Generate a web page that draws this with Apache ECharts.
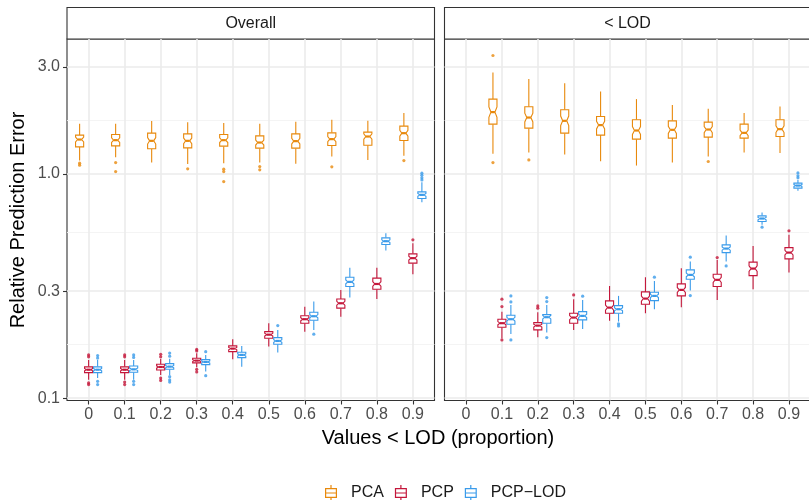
<!DOCTYPE html>
<html>
<head>
<meta charset="utf-8">
<script src="https://cdn.jsdelivr.net/npm/echarts@6/dist/echarts.min.js"></script>
<style>
  html, body { margin: 0; padding: 0; background: #fff; }
  #chart { width: 809px; height: 500px; }
</style>
</head>
<body>
<div id="chart"></div>
<script>
const categories = ['0', '0.1', '0.2', '0.3', '0.4', '0.5', '0.6', '0.7', '0.8', '0.9'];
const methods = ['PCA', 'PCP', 'PCP−LOD'];
const colors = ['#E8890C', '#C4163A', '#3A9BEA'];
const yTicks = [0.1, 0.3, 1.0, 3.0];
const yRange = [0.0977, 3.99];

// box rows: [lower whisker, Q1, median, Q3, upper whisker]
const overallPCA = [
  [1.146, 1.319, 1.422, 1.488, 1.671],
  [1.187, 1.333, 1.413, 1.497, 1.670],
  [1.123, 1.293, 1.403, 1.518, 1.718],
  [1.105, 1.306, 1.403, 1.507, 1.700],
  [1.116, 1.329, 1.413, 1.497, 1.683],
  [1.123, 1.302, 1.379, 1.477, 1.670],
  [1.108, 1.302, 1.399, 1.507, 1.705],
  [1.194, 1.337, 1.428, 1.523, 1.741],
  [1.154, 1.342, 1.467, 1.534, 1.723],
  [1.203, 1.407, 1.518, 1.632, 1.865]
];
const overallPCAOut = [[1.116, 1.093], [1.123, 1.024], [], [1.053], [1.049, 1.024, 0.924], [1.078, 1.042], [], [1.075], [], [1.146]];

const overallPCP = [
  [0.121, 0.130, 0.134, 0.138, 0.148],
  [0.121, 0.130, 0.134, 0.138, 0.148],
  [0.127, 0.1337, 0.1378, 0.1418, 0.1497],
  [0.1375, 0.1437, 0.1471, 0.1508, 0.1587],
  [0.1492, 0.1613, 0.1664, 0.1711, 0.1833],
  [0.170, 0.185, 0.192, 0.198, 0.216],
  [0.198, 0.216, 0.225, 0.233, 0.256],
  [0.231, 0.252, 0.265, 0.277, 0.304],
  [0.277, 0.306, 0.323, 0.343, 0.382],
  [0.357, 0.400, 0.421, 0.440, 0.491]
];
const overallPCPOut = [[0.156, 0.153, 0.117, 0.115], [0.156, 0.153, 0.118, 0.115], [0.157, 0.153, 0.123, 0.120], [0.165, 0.1625, 0.1346, 0.131], [], [], [], [], [], [0.508]];

const overallPCPLOD = [
  [0.123, 0.130, 0.134, 0.138, 0.148],
  [0.121, 0.1306, 0.1345, 0.1393, 0.148],
  [0.127, 0.1346, 0.1383, 0.1427, 0.150],
  [0.1314, 0.1412, 0.1451, 0.1486, 0.156],
  [0.1383, 0.1517, 0.156, 0.1603, 0.1711],
  [0.160, 0.174, 0.180, 0.1863, 0.2016],
  [0.2016, 0.2227, 0.232, 0.2416, 0.2696],
  [0.281, 0.3145, 0.330, 0.346, 0.382],
  [0.455, 0.484, 0.501, 0.5185, 0.544],
  [0.748, 0.776, 0.806, 0.831, 0.918]
];
const overallPCPLODOut = [[0.155, 0.151, 0.119, 0.115], [0.156, 0.152, 0.119, 0.115], [0.159, 0.154, 0.1247, 0.1207, 0.118], [0.1613, 0.1261], [], [0.2107], [0.1929], [], [], [1.007, 0.985, 0.960, 0.940]];

const lodPCA = [
  null,
  [1.228, 1.665, 1.884, 2.153, 2.829],
  [1.245, 1.598, 1.782, 1.990, 2.644],
  [1.219, 1.518, 1.723, 1.929, 2.537],
  [1.139, 1.488, 1.649, 1.800, 2.328],
  [1.089, 1.428, 1.560, 1.741, 2.153],
  [1.123, 1.443, 1.571, 1.723, 2.025],
  [1.194, 1.458, 1.576, 1.700, 1.949],
  [1.245, 1.443, 1.523, 1.665, 1.865],
  [1.237, 1.467, 1.582, 1.741, 1.995]
];
const lodPCAOut = [[], [3.369, 1.123], [1.154], [], [], [], [], [1.135], [], []];

const lodPCP = [
  null,
  [0.1851, 0.2073, 0.216, 0.225, 0.2432],
  [0.187, 0.2016, 0.2107, 0.2173, 0.2416],
  [0.2016, 0.216, 0.2288, 0.2393, 0.2763],
  [0.2212, 0.2393, 0.2534, 0.2715, 0.3167],
  [0.2393, 0.2625, 0.278, 0.2978, 0.3463],
  [0.2544, 0.2858, 0.304, 0.3233, 0.3799],
  [0.2743, 0.3145, 0.337, 0.357, 0.4135],
  [0.306, 0.352, 0.3783, 0.404, 0.4775],
  [0.3631, 0.4178, 0.4457, 0.4692, 0.5346]
];
const lodPCPOut = [[], [0.2763, 0.2561, 0.182], [0.2579, 0.252], [0.2888], [], [], [], [0.4234], [], [0.557]];

const lodPCPLOD = [
  null,
  [0.1935, 0.2137, 0.225, 0.2344, 0.2606],
  [0.1961, 0.216, 0.2297, 0.2359, 0.2606],
  [0.2037, 0.2234, 0.2328, 0.2432, 0.2743],
  [0.2196, 0.2393, 0.2493, 0.2587, 0.2858],
  [0.2493, 0.2724, 0.2858, 0.2969, 0.3334],
  [0.3018, 0.3393, 0.3546, 0.3733, 0.4064],
  [0.4064, 0.4457, 0.4645, 0.4824, 0.5307],
  [0.5924, 0.613, 0.6322, 0.6499, 0.672],
  [0.8399, 0.8633, 0.8867, 0.909, 0.940]
];
const lodPCPLODOut = [[], [0.2858, 0.2688, 0.182], [0.2808, 0.2696, 0.1863], [0.2849], [0.2145, 0.2101], [0.3463], [0.4252, 0.2867], [0.3889], [0.5786], [1.01, 0.98, 0.96]];

const sampleSize = 60; // for notch size
const panels = [
  { title: 'Overall', boxes: [overallPCA, overallPCP, overallPCPLOD], outs: [overallPCAOut, overallPCPOut, overallPCPLODOut] },
  { title: '< LOD', boxes: [lodPCA, lodPCP, lodPCPLOD], outs: [lodPCAOut, lodPCPOut, lodPCPLODOut] }
];

const font = 'Liberation Sans, Arial, sans-serif';
const lg = Math.log10;
const dodge = [-0.25, 0, 0.25];
const boxWidth = 0.225;
const gridPos = [
  { left: 67, top: 39, width: 367.5, height: 361.5 },
  { left: 444.5, top: 39, width: 366, height: 361.5 }
];

// log scale done by hand so the ticks can sit at 0.1, 0.3, 1, 3
const majorLog = yTicks.map(lg);
const minorLog = [];
for (let i = 0; i < yTicks.length - 1; i++) minorLog.push((majorLog[i] + majorLog[i + 1]) / 2);
const xTickPos = categories.map((c, i) => i);

function boxData(rows) {
  const out = [];
  rows.forEach((r, i) => {
    if (!r) return;
    const [lw, q1, md, q3, uw] = r.map(lg);
    const notch = 1.58 * (q3 - q1) / Math.sqrt(sampleSize);
    out.push([i, lw, q1, md, q3, uw, md - notch, md + notch]);
  });
  return out;
}

function outlierData(lists, offset) {
  const out = [];
  lists.forEach((vals, i) => vals.forEach(v => out.push([i + offset, lg(v)])));
  return out;
}

function renderBox(offset, color) {
  return function (params, api) {
    const x = api.value(0) + offset;
    const hw = boxWidth / 2;
    const pt = (dx, val) => api.coord([x + dx, val]);
    const lw = api.value(1), q1 = api.value(2), md = api.value(3), q3 = api.value(4), uw = api.value(5);
    const nlo = api.value(6), nhi = api.value(7);
    const poly = [pt(-hw, q3), pt(-hw, nhi), pt(-hw / 2, md), pt(-hw, nlo), pt(-hw, q1),
                  pt(hw, q1), pt(hw, nlo), pt(hw / 2, md), pt(hw, nhi), pt(hw, q3)];
    const top = pt(0, uw), hi = pt(0, q3), lo = pt(0, q1), bot = pt(0, lw);
    const ml = pt(-hw / 2, md), mr = pt(hw / 2, md);
    const ls = { stroke: color, lineWidth: 1.1 };
    return {
      type: 'group',
      children: [
        { type: 'line', shape: { x1: top[0], y1: top[1], x2: hi[0], y2: hi[1] }, style: ls },
        { type: 'line', shape: { x1: lo[0], y1: lo[1], x2: bot[0], y2: bot[1] }, style: ls },
        { type: 'polygon', shape: { points: poly }, style: { fill: '#fff', stroke: color, lineWidth: 1.1 } },
        { type: 'line', shape: { x1: ml[0], y1: ml[1], x2: mr[0], y2: mr[1] }, style: { stroke: color, lineWidth: 2.2 } }
      ]
    };
  };
}

const grids = gridPos.map(g => Object.assign({
  show: true, backgroundColor: '#fff', borderColor: '#333', borderWidth: 1.1,
  containLabel: false, outerBoundsMode: 'none'
}, g));

const xAxes = gridPos.map((g, i) => ({
  type: 'value', gridIndex: i, min: -0.6, max: 9.6, position: 'bottom',
  axisLine: { show: false, onZero: false },
  axisTick: { show: true, customValues: xTickPos, length: 4, lineStyle: { color: '#333', width: 1.1 } },
  axisLabel: { customValues: xTickPos, formatter: v => categories[Math.round(v)], color: '#4D4D4D', fontSize: 16, fontFamily: font, margin: 6 },
  splitLine: { show: true, lineStyle: { color: '#EBEBEB', width: 1.6 } }
}));

const yAxes = [];
gridPos.forEach((g, i) => {
  yAxes.push({
    type: 'value', gridIndex: i, min: lg(yRange[0]), max: lg(yRange[1]), position: 'left',
    axisLine: { show: false, onZero: false },
    axisTick: { show: i === 0, customValues: majorLog, length: 4, lineStyle: { color: '#333', width: 1.1 } },
    axisLabel: { show: i === 0, customValues: majorLog, formatter: v => Math.pow(10, v).toFixed(1), color: '#4D4D4D', fontSize: 16, fontFamily: font, margin: 7 },
    splitLine: { show: true, lineStyle: { color: '#EBEBEB', width: 1.6 } }
  });
  yAxes.push({
    type: 'value', gridIndex: i, min: lg(yRange[0]), max: lg(yRange[1]), position: 'left',
    axisLine: { show: false, onZero: false },
    axisTick: { show: false, customValues: minorLog },
    axisLabel: { show: false, customValues: minorLog },
    splitLine: { show: true, lineStyle: { color: '#F3F3F3', width: 0.9 } }
  });
});

const series = [];
panels.forEach((p, pi) => {
  methods.forEach((m, mi) => {
    series.push({
      type: 'custom', name: m, xAxisIndex: pi, yAxisIndex: pi * 2,
      renderItem: renderBox(dodge[mi], colors[mi]),
      data: boxData(p.boxes[mi]),
      encode: { x: 0, y: [1, 2, 3, 4, 5] },
      itemStyle: { color: colors[mi] },
      silent: true, z: 3
    });
    series.push({
      type: 'scatter', name: m, xAxisIndex: pi, yAxisIndex: pi * 2,
      data: outlierData(p.outs[mi], dodge[mi]),
      symbolSize: 3.2,
      itemStyle: { color: colors[mi] },
      silent: true, z: 3
    });
  });
});

const keyIcon = 'path://M6.4 0H7.6V3H6.4Z M1 3H13V13H1Z M2.2 4.2V11.8H11.8V4.2Z M2 7.4H12V8.6H2Z M6.4 13H7.6V16H6.4Z';

const graphics = [];
panels.forEach((p, i) => {
  const g = gridPos[i];
  graphics.push({ type: 'rect', shape: { x: g.left, y: 7.5, width: g.width, height: 31.5 }, style: { fill: '#fff', stroke: '#333', lineWidth: 1.1 } });
  graphics.push({ type: 'text', x: g.left + g.width / 2, y: 23.5, style: { text: p.title, fill: '#1A1A1A', fontSize: 16, fontFamily: font, align: 'center', verticalAlign: 'middle' } });
});
graphics.push({ type: 'text', x: 438, y: 438, style: { text: 'Values < LOD (proportion)', fill: '#000', fontSize: 20, fontFamily: font, align: 'center', verticalAlign: 'middle' } });
graphics.push({ type: 'text', x: 18, y: 220, rotation: Math.PI / 2, style: { text: 'Relative Prediction Error', fill: '#000', fontSize: 20, fontFamily: font, align: 'center', verticalAlign: 'middle' } });

const chart = echarts.init(document.getElementById('chart'), null, { renderer: 'canvas' });
chart.setOption({
  animation: false,
  backgroundColor: '#fff',
  grid: grids,
  xAxis: xAxes,
  yAxis: yAxes,
  legend: {
    top: 480, left: 320, itemWidth: 14, itemHeight: 16, itemGap: 11,
    selectedMode: false,
    textStyle: { fontSize: 16, color: '#1A1A1A', fontFamily: font, padding: [0, 0, 0, 8] },
    data: methods.map((m, i) => ({ name: m, icon: keyIcon, itemStyle: { color: colors[i] } }))
  },
  graphic: graphics,
  series: series
});
</script>
</body>
</html>
